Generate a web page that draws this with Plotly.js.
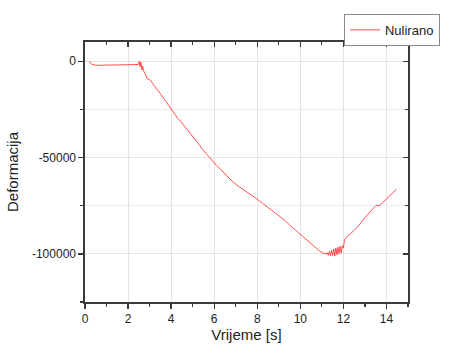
<!DOCTYPE html>
<html>
<head>
<meta charset="utf-8">
<script src="https://cdn.plot.ly/plotly-3.0.1.min.js"></script>
<style>html,body{margin:0;padding:0;background:#fff;}#chart{width:474px;height:362px;}</style>
</head>
<body>
<div id="chart"></div>
<script>
const seriesName = 'Nulirano';
const time = [0.20,0.30,0.50,1.0,1.5,2.0,2.40,2.48,2.52,2.56,2.60,2.64,2.68,2.72,2.80,2.88,2.95,3.05,3.2,3.35,3.5,3.7,3.9,4.1,4.3,4.5,4.7,4.9,5.1,5.3,5.5,5.7,5.9,6.1,6.3,6.5,6.7,6.9,7.1,7.3,7.5,7.7,7.9,8.1,8.3,8.5,8.7,8.9,9.1,9.3,9.5,9.7,9.9,10.1,10.3,10.5,10.7,10.9,11.05,11.15,11.25,11.30,11.35,11.40,11.45,11.50,11.55,11.60,11.65,11.70,11.75,11.80,11.85,11.90,11.95,12.00,12.05,12.10,12.2,12.3,12.5,12.7,12.9,13.1,13.3,13.5,13.7,13.85,14.0,14.2,14.46];
const deformacija = [0,-1500,-2100,-1900,-1800,-1700,-1600,-1700,0,-3000,-500,-4500,-2500,-5000,-6500,-9000,-9300,-10000,-12500,-14500,-16800,-20000,-23300,-26600,-29500,-32000,-34700,-37500,-40300,-43300,-46300,-49000,-51700,-54000,-56200,-58500,-61000,-63000,-64700,-66200,-67700,-69000,-70800,-72500,-74200,-75800,-77500,-79100,-80800,-82800,-85000,-87000,-89000,-90800,-92700,-94800,-96800,-98600,-99600,-100000,-99500,-100800,-98800,-101000,-98000,-100800,-97500,-101200,-97000,-100500,-96500,-100000,-96000,-99500,-95800,-97000,-93000,-91800,-90500,-89800,-87800,-85500,-82500,-79800,-77300,-75000,-74700,-73000,-71500,-69300,-66500];
const xTickVals = [0,2,4,6,8,10,12,14];
const xTickText = ['0','2','4','6','8','10','12','14'];
const yTickVals = [0,-50000,-100000];
const yTickText = ['0','-50000','-100000'];
const xRange = [0,15];
const yRange = [-125000,10000];

const axisColor = '#3a3a3a';
const font = {family:'Liberation Sans, Arial, sans-serif', color:'#222'};

const trace = {
  x: time, y: deformacija, type:'scatter', mode:'lines', name: seriesName,
  line:{color:'#ff3b3b', width:0.9}
};
// invisible helper so the mirrored top/right axes are drawn
const frameTrace = {
  x: [xRange[0]], y: [yRange[0]], xaxis:'x2', yaxis:'y2', type:'scatter', mode:'markers',
  marker:{opacity:0}, showlegend:false, hoverinfo:'skip'
};

const layout = {
  width:474, height:362,
  margin:{l:85, r:66, t:42, b:60},
  paper_bgcolor:'#fff', plot_bgcolor:'#fff',
  font: Object.assign({size:12}, font),
  showlegend:true,
  legend:{x:1.099, xanchor:'right', y:1.108, yanchor:'top', bordercolor:'#8a8a8a', borderwidth:1,
          font:Object.assign({size:13}, font), bgcolor:'#fff', tracegroupgap:0, itemwidth:30},
  xaxis:{range:xRange, tickmode:'array', tickvals:xTickVals, ticktext:xTickText,
         ticks:'outside', ticklen:5, tickwidth:1.3, tickcolor:axisColor,
         showline:true, linecolor:axisColor, linewidth:1.6, zeroline:false,
         showgrid:true, gridcolor:'#e4e4e4', gridwidth:1,
         minor:{dtick:1, tick0:0, ticks:'outside', ticklen:3, tickwidth:1.2, tickcolor:axisColor, showgrid:false},
         tickfont:Object.assign({size:12}, font),
         title:{text:'Vrijeme [s]', font:Object.assign({size:15}, font), standoff:4}},
  yaxis:{range:yRange, tickmode:'array', tickvals:yTickVals, ticktext:yTickText,
         ticks:'outside', ticklen:5, tickwidth:1.3, tickcolor:axisColor,
         showline:true, linecolor:axisColor, linewidth:1.6, zeroline:false,
         showgrid:true, gridcolor:'#e4e4e4', gridwidth:1,
         minor:{dtick:25000, tick0:0, ticks:'outside', ticklen:3, tickwidth:1.2, tickcolor:axisColor, showgrid:true, gridcolor:'#ececec', gridwidth:1},
         tickfont:Object.assign({size:12}, font),
         title:{text:'Deformacija', font:Object.assign({size:15}, font), standoff:10}},
  xaxis2:{overlaying:'x', side:'top', range:xRange, tickmode:'array', tickvals:xTickVals,
          showticklabels:false, ticks:'inside', ticklen:5, tickwidth:1.3, tickcolor:axisColor,
          showline:true, linecolor:axisColor, linewidth:1.6, showgrid:false, zeroline:false,
          minor:{dtick:1, tick0:0, ticks:'inside', ticklen:3, tickwidth:1.2, tickcolor:axisColor}},
  yaxis2:{overlaying:'y', side:'right', range:yRange, tickmode:'array', tickvals:yTickVals,
          showticklabels:false, ticks:'inside', ticklen:5, tickwidth:1.3, tickcolor:axisColor,
          showline:true, linecolor:axisColor, linewidth:1.6, showgrid:false, zeroline:false,
          minor:{dtick:25000, tick0:0, ticks:'inside', ticklen:3, tickwidth:1.2, tickcolor:axisColor}}
};

Plotly.newPlot('chart', [trace, frameTrace], layout, {staticPlot:true, displayModeBar:false});
</script>
</body>
</html>
